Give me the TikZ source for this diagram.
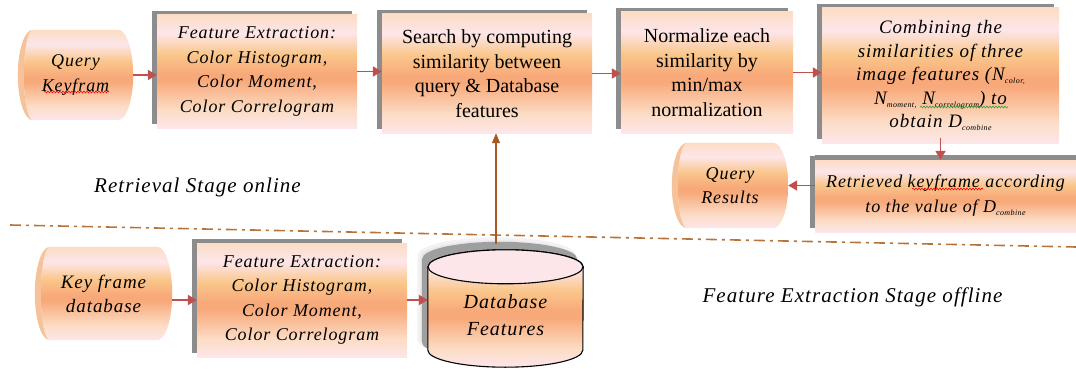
\documentclass[tikz,border=0pt]{standalone}
\usepackage{fontspec}
\setmainfont{Liberation Serif}
\newfontfamily\itf{Liberation Serif}[LetterSpace=5]
\usetikzlibrary{shadows,arrows.meta,calc,decorations.pathmorphing}
\pgfdeclarelayer{bg}
\pgfsetlayers{bg,main}
\definecolor{pk}{HTML}{FDE6EA}
\definecolor{lp}{HTML}{FCDCC4}
\definecolor{oa}{HTML}{FAC68A}
\definecolor{ob}{HTML}{F8A97A}
\definecolor{cres}{HTML}{F5C299}
\definecolor{arr}{HTML}{C0504D}
\definecolor{darr}{HTML}{A65A22}
\definecolor{dline}{HTML}{B8733A}
\definecolor{shd}{HTML}{8C8C8C}
\definecolor{spg}{HTML}{3A9A3A}
\pgfdeclareverticalshading{peach}{100bp}{color(0bp)=(pk); color(25bp)=(pk); color(33bp)=(lp); color(46bp)=(ob); color(49bp)=(ob); color(57.5bp)=(oa); color(67bp)=(pk); color(75bp)=(lp); color(100bp)=(lp)}
\newcommand\subsm[1]{\raisebox{-3pt}{\fontsize{8}{8}\selectfont #1}}
\newcommand\hcyl[1]{%
\begin{pgfonlayer}{bg}
\path[shading=peach] let \p1=(#1.north west), \p2=(#1.south east), \n1={(\y1-\y2)/2} in
  ([xshift=15pt]#1.north west) -- ([xshift=-15pt]#1.north east)
  arc[start angle=90,end angle=-90,x radius=15pt,y radius=\n1]
  -- ([xshift=15pt]#1.south west)
  arc[start angle=270,end angle=90,x radius=9pt,y radius=\n1] -- cycle;
\fill[cres] let \p1=(#1.north west), \p2=(#1.south east), \n1={(\y1-\y2)/2} in
  ([xshift=15pt]#1.north west)
  arc[start angle=90,end angle=270,x radius=15pt,y radius=\n1]
  arc[start angle=270,end angle=90,x radius=9pt,y radius=\n1] -- cycle;
\end{pgfonlayer}}
% silhouette of the database cylinder, shifted by #1
\newcommand\dbsil[1]{([shift={#1},yshift=-17pt]db.north west) -- ([shift={#1},yshift=17pt]db.south west)
  arc[start angle=180,end angle=360,x radius=77.5pt,y radius=17pt]
  -- ([shift={#1},yshift=-17pt]db.north east)
  arc[start angle=0,end angle=180,x radius=77.5pt,y radius=17pt] -- cycle}
\tikzset{
  stepbox/.style={shading=peach, drop shadow={shadow xshift=-5pt, shadow yshift=4pt, fill=shd, opacity=1}, align=center, inner sep=0pt},
  cylnode/.style={align=center, inner sep=0pt},
  itx/.style={font=\itf\itshape\fontsize{18}{24.5}\selectfont},
  rmx/.style={font=\fontsize{20}{24.5}\selectfont},
  stagelbl/.style={font=\itf\itshape\fontsize{21}{24}\selectfont},
  conn/.style={draw=arr, line width=1.8pt, -{Triangle[length=9pt,width=10pt]}},
  dconn/.style={draw=darr, line width=1.3pt, -{Triangle[length=10pt,width=8pt]}},
  squig/.style={line width=0.6pt, decorate, decoration={snake, amplitude=0.9pt, segment length=3pt}},
}
\begin{document}
\begin{tikzpicture}[x=1pt,y=-1pt]
\useasboundingbox (0,0) rectangle (1076,369);
% separator
\draw[dline, line width=1.6pt, dash pattern=on 11pt off 5pt on 3pt off 5pt] (10,225) -- (1076,247);
% online stage
\node[cylnode, itx, minimum width=115pt, minimum height=90pt] (qk) at (75.5,75) {Query\\Keyfram};
\hcyl{qk}
\node[stepbox, itx, minimum width=200pt, minimum height=113pt] (fe1) at (257,71.5) {Feature Extraction:\\Color Histogram,\\Color Moment,\\Color Correlogram};
\node[stepbox, rmx, minimum width=210pt, minimum height=119pt] (s) at (487,73.5) {Search by computing\\similarity between\\query \& Database\\features};
\node[stepbox, rmx, minimum width=172pt, minimum height=121pt] (n) at (707,72.5) {Normalize each\\similarity by\\min/max\\normalization};
\node[stepbox, itx, font=\itf\itshape\fontsize{19}{23.5}\selectfont, minimum width=237pt, minimum height=135pt] (c) at (940.5,75.5) {Combining the\\similarities of three\\image features (N\subsm{color,}\\N\subsm{moment,} N\subsm{correlogram}) to\\obtain D\subsm{combine}};
\node[stepbox, itx, font=\itf\itshape\fontsize{18}{25}\selectfont, drop shadow={shadow xshift=0pt, shadow yshift=5pt, fill=shd, opacity=1}, minimum width=261pt, minimum height=72pt] (r) at (945.5,196) {Retrieved keyframe according\\to the value of D\subsm{combine}};
\node[cylnode, itx, font=\itf\itshape\fontsize{18}{24}\selectfont, minimum width=116pt, minimum height=85pt] (qr) at (730,185.5) {Query\\Results};
\hcyl{qr}
\node[stagelbl] (rs) at (197.5,187) {Retrieval Stage online};
% offline stage
\node[cylnode, itx, font=\itf\itshape\fontsize{19}{24}\selectfont, minimum width=137pt, minimum height=93pt] (kd) at (103.5,293.5) {Key frame\\database};
\hcyl{kd}
\node[stepbox, itx, minimum width=210pt, minimum height=114pt] (fe2) at (302,300) {Feature Extraction:\\Color Histogram,\\Color Moment,\\Color Correlogram};
\node[cylnode, itx, font=\itf\itshape\fontsize{20}{27}\selectfont, minimum width=155pt, minimum height=117pt] (db) at (505.5,308.5) {\\Database\\Features};
\begin{pgfonlayer}{bg}
\path[fill=gray!18, draw=gray!10, line width=3pt] \dbsil{(-9pt,11pt)};
\fill[gray!75] \dbsil{(-6pt,8pt)};
\path[shading=peach, draw=black, line width=1.1pt] \dbsil{(0pt,0pt)};
\draw[fill=pk, line width=1.1pt] ([yshift=-17pt]db.north) ellipse[x radius=77.5pt, y radius=17pt];
\end{pgfonlayer}
\node[stagelbl] (fs) at (852.5,297) {Feature Extraction Stage offline};
% spell-check marks
\draw[red, squig] (44,92) -- (109,92);
\draw[red, squig] (912,189) -- (983,189);
\draw[spg, squig] (920,107) -- (1008,107);
% connectors
\draw[conn] (qk.east) -- (qk.east -| fe1.west);
\draw[conn] (fe1.east) -- (fe1.east -| s.west);
\draw[conn] (s.east) -- (s.east -| n.west);
\draw[conn] (n.east) -- (n.east -| c.west);
\draw[conn] ([yshift=5pt]c.south) -- (c.south |- r.north);
\draw[conn] (qr.east -| r.west) -- (qr.east);
\draw[conn] (kd.east |- fe2.west) -- (fe2.west);
\draw[conn] (fe2.east) -- (fe2.east -| db.west);
\draw[dconn] ($(db.north)+(-9.5,-6)$) -- ($(s.south)+(9,0)$);
\end{tikzpicture}
\end{document}
